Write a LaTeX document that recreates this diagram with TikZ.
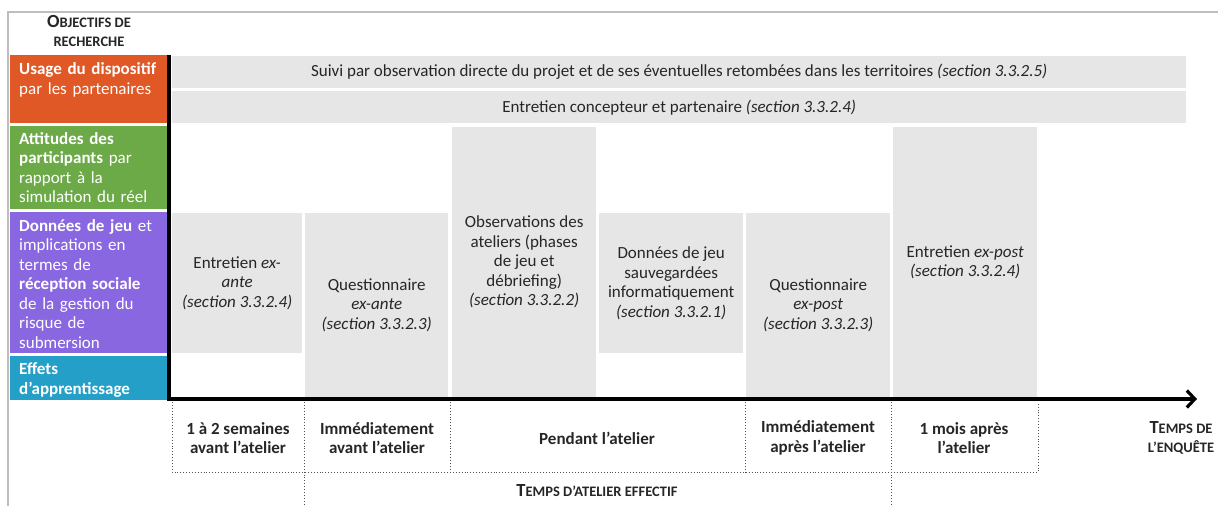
\documentclass[tikz,border=0pt]{standalone}
\usepackage{fontspec}
\setmainfont{Carlito}
\usetikzlibrary{arrows.meta}
\definecolor{gris}{RGB}{230,230,230}
\definecolor{texte}{RGB}{38,38,38}
\definecolor{cadre}{RGB}{190,190,190}
\definecolor{usage}{RGB}{224,88,38}
\definecolor{attitude}{RGB}{108,170,72}
\definecolor{donnees}{RGB}{137,103,224}
\definecolor{effets}{RGB}{36,160,200}
\newcommand{\grand}[1]{{\fontsize{18.5}{20}\selectfont #1}}
\newcommand{\petit}[1]{{\fontsize{14.5}{20}\selectfont #1}}

\begin{document}
\begin{tikzpicture}[x=1pt,y=-1pt]
\tikzset{CaseGrise/.style = {fill=gris, inner sep=0pt, anchor=north west, align=center, text=texte, font=\fontsize{17}{19.5}\selectfont}}
\tikzset{Objectif/.style = {inner xsep=9pt, inner ysep=0pt, anchor=north west, minimum width=157pt, text width=139pt, align=left, text=white, font=\fontsize{17}{19.5}\selectfont}}
\tikzset{Periode/.style = {align=center, text=texte, font=\bfseries\fontsize{17}{19.5}\selectfont}}
\tikzset{Axe/.style = {line width=3.2pt, -{Straight Barb[length=8pt,width=17pt,line width=3.2pt]}}}
\tikzset{Pointille/.style = {line width=0.9pt, dash pattern=on 0.9pt off 2pt, color=texte!80}}
\useasboundingbox (0,0) rectangle (1218,506);
\draw[cadre, line width=1.5pt] (8,506) -- (8,12) -- (1218,12);

\node[Periode] (OBJ) at (89,31) {\grand{O}\petit{BJECTIFS DE}\\\petit{RECHERCHE}};
\node[Objectif, fill=usage, minimum height=68pt, text height=19.5pt, text depth=48.5pt] (O1) at (10,55) {\textbf{Usage du dispositif}\\par les partenaires};
\node[Objectif, fill=attitude, minimum height=83pt, text height=18pt, text depth=65pt] (O2) at (10,126) {\textbf{Attitudes des}\\\textbf{participants} par\\rapport à la\\simulation du réel};
\node[Objectif, fill=donnees, minimum height=141pt, text height=19pt, text depth=122pt] (O3) at (10,212) {\textbf{Données de jeu} et\\implications en\\termes de\\\textbf{réception sociale}\\de la gestion du\\risque de\\submersion};
\node[Objectif, fill=effets, minimum height=44pt, text height=18.5pt, text depth=25.5pt] (O4) at (10,356) {\textbf{Effets}\\\textbf{d’apprentissage}};

\node[CaseGrise, minimum width=1014pt, minimum height=32pt] (R1) at (172,56) {Suivi par observation directe du projet et de ses éventuelles retombées dans les territoires \textit{(section 3.3.2.5)}};
\node[CaseGrise, minimum width=1014pt, minimum height=32pt] (R2) at (172,91) {Entretien concepteur et partenaire \textit{(section 3.3.2.4)}};
\node[CaseGrise, minimum width=130pt, minimum height=140pt] (C1) at (172,213) {Entretien \textit{ex-}\\\textit{ante}\\\textit{(section 3.3.2.4)}};
\node[CaseGrise, minimum width=143pt, minimum height=184pt] (C2) at (305,213) {Questionnaire\\\textit{ex-ante}\\\textit{(section 3.3.2.3)}};
\node[CaseGrise, minimum width=144pt, minimum height=270pt] (C3) at (452,127) {Observations des\\ateliers (phases\\de jeu et\\débriefing)\\\textit{(section 3.3.2.2)}};
\node[CaseGrise, minimum width=144pt, minimum height=140pt] (C4) at (599,213) {Données de jeu\\sauvegardées\\informatiquement\\\textit{(section 3.3.2.1)}};
\node[CaseGrise, minimum width=144pt, minimum height=184pt] (C5) at (746,213) {Questionnaire\\\textit{ex-post}\\\textit{(section 3.3.2.3)}};
\node[CaseGrise, minimum width=144pt, minimum height=270pt] (C6) at (893,127) {Entretien \textit{ex-post}\\\textit{(section 3.3.2.4)}};

\coordinate (H) at (169,55); \coordinate (O) at (169,399); \coordinate (F) at (1197,399);
\draw[Axe] (H) -- (O) -- (F);

\foreach \x/\n in {172/P1,304/P2,450/P3,745/P4,891/P5,1038/P6}{
  \coordinate (\n) at (\x,402); \coordinate (\n b) at (\x,472);
}
\coordinate (P2c) at (304,506); \coordinate (P5c) at (891,506);
\draw[Pointille] (P1) -- (P1b) -- (P6b) -- (P6);
\draw[Pointille] (P3) -- (P3b); \draw[Pointille] (P4) -- (P4b);
\draw[Pointille] (P2) -- (P2c); \draw[Pointille] (P5) -- (P5c);

\node[Periode] (T1) at (238,438) {1 à 2 semaines\\avant l’atelier};
\node[Periode] (T2) at (377,438) {Immédiatement\\avant l’atelier};
\node[Periode] (T3) at (597,438) {Pendant l’atelier};
\node[Periode] (T4) at (818,438) {Immédiatement\\après l’atelier};
\node[Periode] (T5) at (964,438) {1 mois après\\l’atelier};
\node[Periode] (TE) at (1181,438) {\grand{T}\petit{EMPS DE}\\\petit{L’ENQUÊTE}};
\node[Periode] (TA) at (597,491) {\grand{T}\petit{EMPS D’ATELIER EFFECTIF}};
\end{tikzpicture}
\end{document}
